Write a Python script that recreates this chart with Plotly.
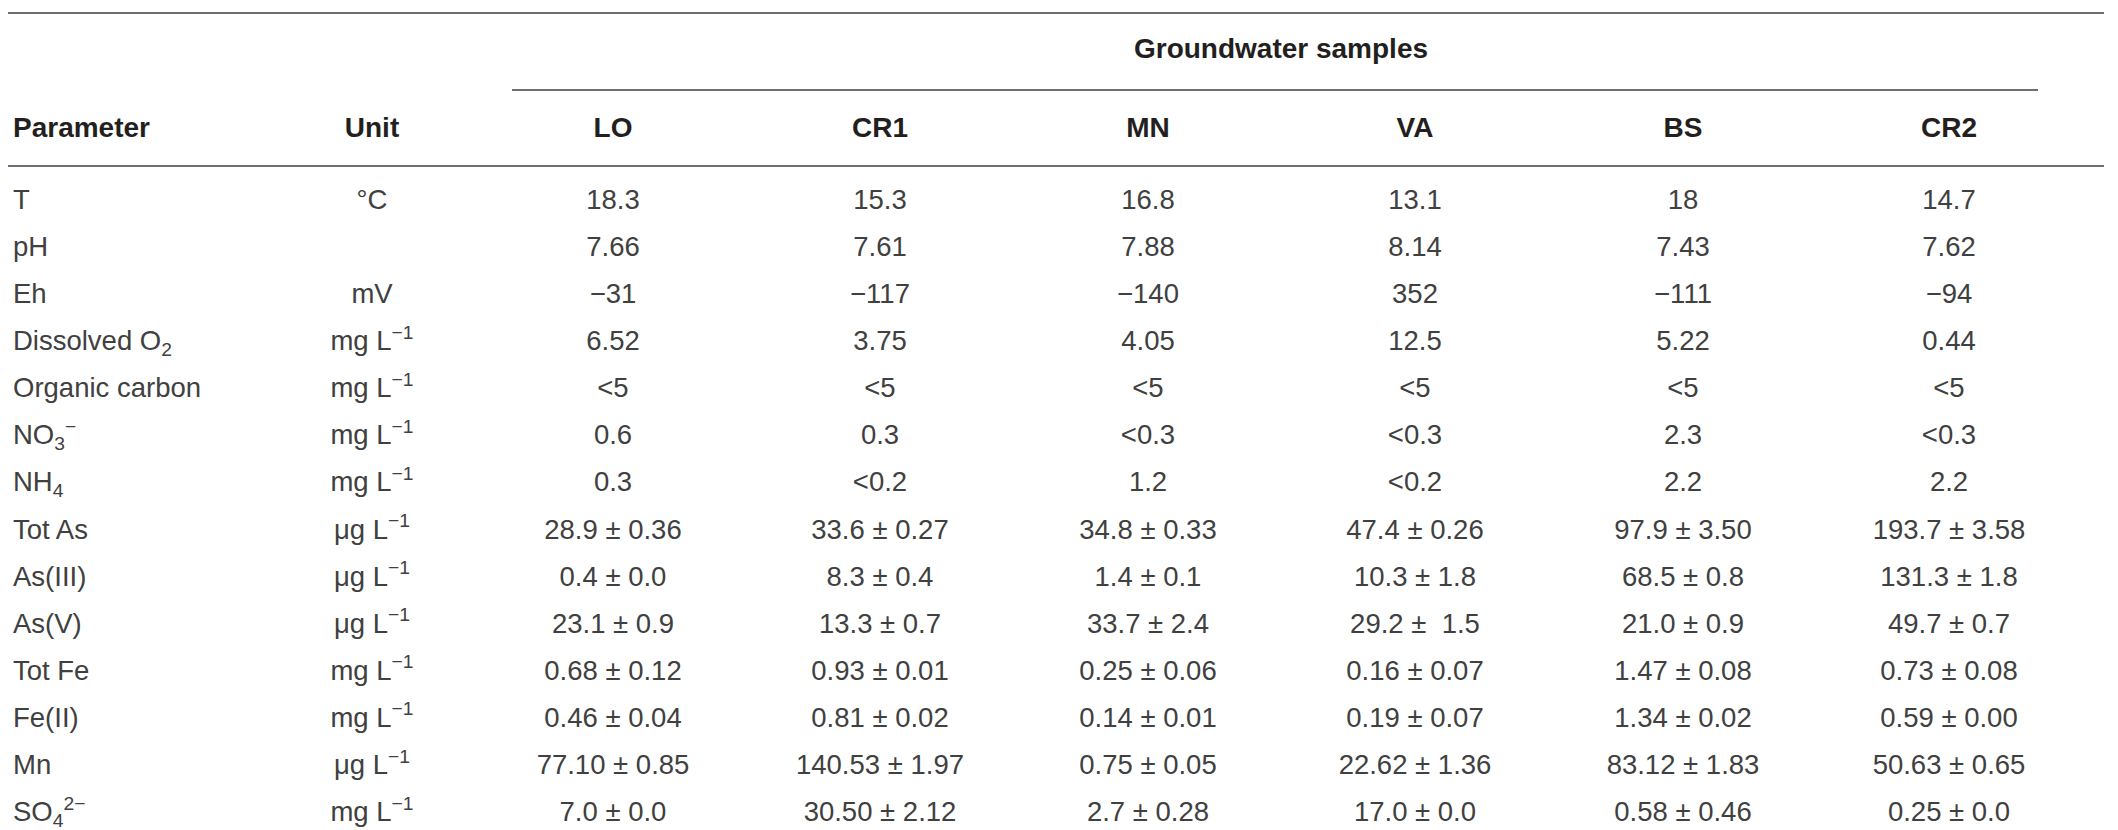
import plotly.graph_objects as go

# table content
parameters = ["T", "pH", "Eh", "Dissolved O<sub>2</sub>", "Organic carbon",
              "NO<sub>3</sub><sup>−</sup>", "NH<sub>4</sub>", "Tot As", "As(III)", "As(V)",
              "Tot Fe", "Fe(II)", "Mn", "SO<sub>4</sub><sup>2−</sup>"]
units = ["°C", "", "mV", "mg L<sup>−1</sup>", "mg L<sup>−1</sup>", "mg L<sup>−1</sup>",
         "mg L<sup>−1</sup>", "μg L<sup>−1</sup>", "μg L<sup>−1</sup>", "μg L<sup>−1</sup>",
         "mg L<sup>−1</sup>", "mg L<sup>−1</sup>", "μg L<sup>−1</sup>", "mg L<sup>−1</sup>"]
samples = ["LO", "CR1", "MN", "VA", "BS", "CR2"]

LO = ["18.3", "7.66", "−31", "6.52", "<5", "0.6", "0.3", "28.9 ± 0.36", "0.4 ± 0.0",
      "23.1 ± 0.9", "0.68 ± 0.12", "0.46 ± 0.04", "77.10 ± 0.85", "7.0 ± 0.0"]
CR1 = ["15.3", "7.61", "−117", "3.75", "<5", "0.3", "<0.2", "33.6 ± 0.27", "8.3 ± 0.4",
       "13.3 ± 0.7", "0.93 ± 0.01", "0.81 ± 0.02", "140.53 ± 1.97", "30.50 ± 2.12"]
MN = ["16.8", "7.88", "−140", "4.05", "<5", "<0.3", "1.2", "34.8 ± 0.33", "1.4 ± 0.1",
      "33.7 ± 2.4", "0.25 ± 0.06", "0.14 ± 0.01", "0.75 ± 0.05", "2.7 ± 0.28"]
VA = ["13.1", "8.14", "352", "12.5", "<5", "<0.3", "<0.2", "47.4 ± 0.26", "10.3 ± 1.8",
      "29.2 ±\u00a0 1.5", "0.16 ± 0.07", "0.19 ± 0.07", "22.62 ± 1.36", "17.0 ± 0.0"]
BS = ["18", "7.43", "−111", "5.22", "<5", "2.3", "2.2", "97.9 ± 3.50", "68.5 ± 0.8",
      "21.0 ± 0.9", "1.47 ± 0.08", "1.34 ± 0.02", "83.12 ± 1.83", "0.58 ± 0.46"]
CR2 = ["14.7", "7.62", "−94", "0.44", "<5", "<0.3", "2.2", "193.7 ± 3.58", "131.3 ± 1.8",
       "49.7 ± 0.7", "0.73 ± 0.08", "0.59 ± 0.00", "50.63 ± 0.65", "0.25 ± 0.0"]
columns = [LO, CR1, MN, VA, BS, CR2]

W, H = 2118, 830
FONT = "Liberation Sans, Arial, sans-serif"
BODY = "#404040"
HEAD = "#231f20"
RULE = "#6d6e71"
BODY_SIZE = 27.5
HEAD_SIZE = 28

unit_x = 364
sample_x = [605, 872, 1140, 1407, 1675, 1941]
row_y = [194 + i * 47.1 for i in range(len(parameters))]
head_y = 122

fig = go.Figure()

# parameter names, left aligned
fig.add_trace(go.Scatter(x=[5] * len(parameters), y=row_y, text=parameters, mode="text",
                         textposition="middle right",
                         textfont=dict(family=FONT, size=BODY_SIZE, color=BODY), hoverinfo="skip"))
# units
fig.add_trace(go.Scatter(x=[unit_x] * len(units), y=row_y, text=units, mode="text",
                         textposition="middle center",
                         textfont=dict(family=FONT, size=BODY_SIZE, color=BODY), hoverinfo="skip"))
# sample values
for cx, vals in zip(sample_x, columns):
    fig.add_trace(go.Scatter(x=[cx] * len(vals), y=row_y, text=vals, mode="text",
                             textposition="middle center",
                             textfont=dict(family=FONT, size=BODY_SIZE, color=BODY), hoverinfo="skip"))

# header row
fig.add_trace(go.Scatter(x=[5], y=[head_y], text=["<b>Parameter</b>"], mode="text",
                         textposition="middle right",
                         textfont=dict(family=FONT, size=HEAD_SIZE, color=HEAD), hoverinfo="skip"))
fig.add_trace(go.Scatter(x=[unit_x] + sample_x, y=[head_y] * 7,
                         text=["<b>%s</b>" % s for s in ["Unit"] + samples], mode="text",
                         textposition="middle center",
                         textfont=dict(family=FONT, size=HEAD_SIZE, color=HEAD), hoverinfo="skip"))
fig.add_trace(go.Scatter(x=[(sample_x[0] + sample_x[-1]) / 2], y=[43],
                         text=["<b>Groundwater samples</b>"], mode="text",
                         textposition="middle center",
                         textfont=dict(family=FONT, size=HEAD_SIZE, color=HEAD), hoverinfo="skip"))

# horizontal rules
for x0, x1, y in [(0, 2096, 5), (504, 2030, 82), (0, 2096, 158)]:
    fig.add_shape(type="line", x0=x0, x1=x1, y0=y, y1=y, xref="x", yref="y",
                  line=dict(color=RULE, width=2))

fig.update_xaxes(range=[0, W], visible=False, fixedrange=True)
fig.update_yaxes(range=[H, 0], visible=False, fixedrange=True)
fig.update_layout(width=W, height=H, margin=dict(l=0, r=0, t=0, b=0),
                  plot_bgcolor="white", paper_bgcolor="white", showlegend=False)

fig.write_html("out.html")
